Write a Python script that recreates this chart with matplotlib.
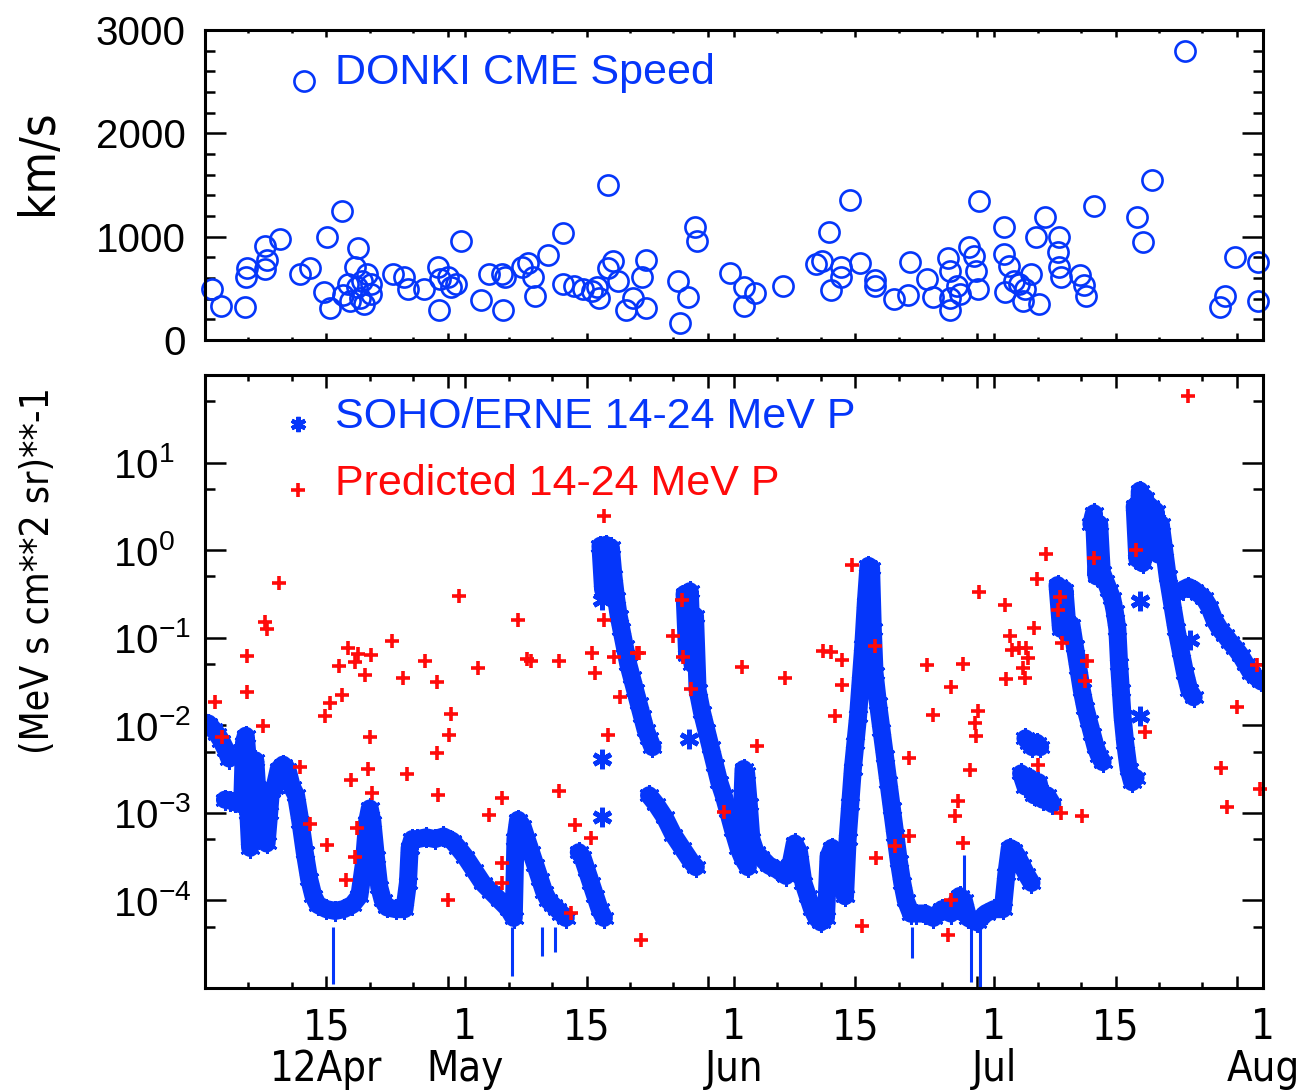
import numpy as np
import matplotlib.pyplot as plt
from matplotlib import font_manager as fm
from matplotlib.ticker import FixedLocator, NullFormatter

plt.rcParams["font.family"] = ["Liberation Sans", "DejaVu Sans"]
plt.rcParams["mathtext.fontset"] = "custom"
plt.rcParams["mathtext.rm"] = "Liberation Sans"
BLUE = "#0536fa"
RED = "#ff0a0a"

# look for a narrow sans font for the axis labels
narrow_file = None
for f in fm.fontManager.ttflist:
    if f.style != "normal" or f.weight not in (400, "normal", "regular", "book"):
        continue
    if "Narrow" in f.name or "Condensed" in f.name or f.stretch in ("condensed", "semi-condensed"):
        if narrow_file is None or "Liberation" in f.name:
            narrow_file = f.fname
if narrow_file:
    NARROW = fm.FontProperties(fname=narrow_file)
else:
    NARROW = fm.FontProperties(family="Liberation Sans")

# day numbers counted from 2012 Apr 1

# DONKI CME speed (km/s)
cme_day = [0.8, 1.9, 4.6, 4.7, 4.9, 6.9, 7.1, 6.9, 8.6, 11.4, 11.0, 12.1, 14.1, 13.7, 14.4,
           15.8, 15.9, 16.5, 16.7, 17.6, 17.3, 17.5, 17.9, 18.3, 18.7, 19.1, 19.1, 18.1, 21.7,
           22.9, 23.4, 25.3, 26.9, 27.0, 27.1, 28.0, 28.4, 29.0, 29.5, 31.8, 32.8, 34.3, 34.4,
           34.6, 36.6, 37.2, 37.8, 38.0, 39.5, 41.3, 41.3, 42.6, 43.6, 44.6, 45.2, 45.4, 46.5,
           46.5, 47.0, 47.6, 48.5, 49.3, 50.4, 50.8, 50.8, 54.5, 54.8, 55.7, 56.5, 56.7, 60.5,
           62.1, 62.1, 63.4, 66.7, 70.4, 71.2, 72.0, 74.4, 72.2, 73.3, 73.3, 75.5, 77.2, 77.2,
           79.4, 81.1, 81.3, 83.3, 83.9, 85.7, 85.9, 85.9, 85.9, 86.7, 87.1, 88.1, 88.7, 88.9,
           89.1, 89.2, 92.1, 92.1, 92.7, 92.3, 93.3, 93.9, 94.5, 94.3, 95.3, 95.8, 96.2, 96.8,
           98.5, 98.4, 98.5, 98.7, 100.9, 101.3, 101.6, 102.5, 107.5, 108.2, 109.2, 113.0,
           117.0, 117.6, 118.8, 121.4, 121.4]
cme_speed = [492, 330, 320, 605, 696, 906, 773, 686, 977, 2505, 637, 696, 1000, 469, 307,
             1246, 437, 540, 379, 890, 702, 508, 411, 346, 637, 540, 443, 573, 637,
             605, 492, 492, 702, 288, 589, 605, 508, 540, 955, 385, 637, 637, 288,
             605, 709, 741, 612, 427, 822, 1036, 540, 524, 492, 476, 508, 411, 1495,
             696, 767, 573, 288, 411, 612, 773, 314, 573, 168, 417, 1097, 955, 644,
             508, 330, 450, 524, 735, 767, 1042, 1356, 482, 709, 605, 741, 579, 524,
             395, 437, 751, 589, 417, 793, 670, 411, 288, 524, 443, 896, 815, 670,
             492, 1343, 1097, 832, 718, 460, 573, 540, 492, 379, 637, 1000, 346, 1194,
             1000, 848, 702, 605, 631, 534, 427, 1301, 1194, 945, 1550, 2799,
             320, 427, 799, 751, 379]

# predicted 14-24 MeV proton flux, log10
pred_day = [1.1, 2.0, 4.8, 4.8, 6.9, 7.1, 6.7, 8.5, 11.0, 12.1, 14.1, 13.8, 14.4, 15.4, 15.8,
            16.5, 17.3, 17.6, 19.1, 18.4, 16.8, 17.5, 17.3, 16.3, 19.0, 18.8, 19.2, 21.6, 22.8,
            23.3, 25.4, 26.8, 26.8, 26.9, 28.1, 28.4, 29.3, 28.0, 31.5, 32.7, 34.2, 34.3, 34.2,
            36.1, 37.1, 37.6, 40.8, 40.8,
            46.0, 46.0, 44.6, 45.0, 47.2, 50.1, 49.8, 47.9, 46.5, 42.7, 44.5, 42.2, 50.3, 54.0,
            55.1, 56.0, 59.9, 61.9, 63.6, 66.9, 71.3, 72.2, 73.5, 73.5, 72.7, 74.6, 77.3, 81.2,
            81.2, 77.4, 79.6, 75.7, 55.0,
            113.3, 97.0, 95.9, 89.3, 92.2, 95.6, 92.8, 93.1, 93.9, 94.7, 94.9, 94.3, 94.6, 92.4,
            83.2, 87.4, 86.0, 83.9, 89.1, 88.8, 88.9, 88.2, 86.8, 86.5, 87.4, 86.0, 85.7, 98.6,
            98.4, 98.8, 101.7, 101.5, 98.7, 101.1, 96.1, 102.5, 107.3, 108.4, 119.0, 117.2,
            117.8, 121.6, 121.3]
pred_log = [-1.73, -2.13, -1.21, -1.62, -0.82, -0.90, -2.01, -0.38, -2.48, -3.13, -3.37, -1.89,
            -1.75, -1.32, -1.65, -1.12, -1.28, -1.19, -1.20, -1.43, -2.62, -3.17, -3.51, -3.77,
            -2.13, -2.50, -2.77, -1.04, -1.46, -2.56, -1.27, -1.51, -2.32, -2.80, -2.11, -1.87,
            -0.52, -3.99, -1.35, -3.02, -2.83, -3.57, -3.80, -0.80, -1.24, -1.27, -1.27, -2.75,
            0.39, -0.80, -1.18, -1.40, -1.22, -1.18, -1.17, -1.68, -2.11, -3.14, -3.29, -4.14,
            -4.45, -0.98, -1.22, -1.59, -2.99, -1.34, -2.24, -1.46, -1.15, -1.16, -1.25, -1.54,
            -1.90, -0.17, -1.09, -2.37, -3.27, -3.52, -3.38, -4.29, -0.57,
            1.76, -0.04, -0.33, -0.48, -0.63, -0.89, -0.98, -1.14, -1.12, -1.12, -1.23, -1.35,
            -1.46, -1.47, -1.31, -1.30, -1.56, -1.88, -1.84, -1.97, -2.12, -2.51, -2.86, -3.04,
            -3.34, -3.99, -4.40, -0.53, -0.68, -1.06, -1.27, -1.50, -3.00, -3.04, -2.45, -0.09,
            0.00, -2.08, -1.79, -2.49, -2.93, -2.73, -1.31]

# SOHO/ERNE 14-24 MeV proton flux, log10, one list per data stretch
erne_a_day = [0.0, 0.4, 0.9, 1.4, 1.9, 2.4, 2.8]
erne_a_log = [-1.97, -1.98, -2.04, -2.1, -2.18, -2.28, -2.38]
erne_b_day = [2.3, 2.9, 3.5, 4.0, 4.3, 4.5, 4.7, 4.9, 5.0, 5.2, 5.4, 5.6, 5.8, 6.0, 6.3, 6.6,
              6.8, 7.1, 7.4, 7.6, 8.0, 8.5, 9.0, 9.5, 10.0, 10.5, 11.0, 11.5, 12.0, 12.5, 13.0,
              14.0, 15.0, 16.0, 17.0, 17.8, 18.3, 18.7, 19.0, 19.3, 19.7, 20.1, 20.5, 21.0,
              22.0, 23.0, 23.4, 23.6, 23.9, 24.5, 25.5, 26.5, 27.5, 28.5, 29.2, 30.0, 31.0,
              32.0, 33.0, 34.0, 35.0, 35.6, 35.8, 36.1, 36.6, 37.1, 37.6, 38.1, 38.6, 39.1,
              39.6, 40.1, 40.6, 41.1, 41.6]
erne_b_log = [-2.85, -2.86, -2.88, -2.9, -2.88, -2.2, -2.12, -2.35, -3.0, -3.4, -3.3, -2.6,
              -2.4, -2.7, -2.8, -2.8, -3.25, -3.35, -3.0, -2.75, -2.72, -2.5, -2.45, -2.5,
              -2.7, -2.8, -3.1, -3.45, -3.75, -3.95, -4.05, -4.1, -4.12, -4.1, -4.05, -3.95,
              -3.6, -3.1, -2.95, -3.1, -3.5, -3.85, -4.0, -4.08, -4.1, -4.1, -3.8, -3.4, -3.3,
              -3.3, -3.28, -3.3, -3.27, -3.32, -3.4, -3.5, -3.65, -3.8, -3.9, -4.0, -4.1, -4.2,
              -3.3, -3.08, -3.15, -3.3, -3.45, -3.6, -3.75, -3.9, -4.0, -4.05, -4.1, -4.15, -4.2]
erne_d_day = [43.1, 43.5, 44.0, 44.5, 45.0, 45.5, 46.0]
erne_d_log = [-3.45, -3.5, -3.65, -3.8, -3.95, -4.1, -4.2]
erne_e_day = [45.6, 45.9, 46.2, 46.5, 46.8, 47.1, 47.4, 47.7, 48.0, 48.4, 48.8, 49.2, 49.6,
              50.0, 50.4, 50.8, 51.2, 51.6]
erne_e_log = [0.05, -0.45, 0.06, -0.5, 0.03, -0.3, -0.55, -0.75, -0.9, -1.1, -1.3, -1.45,
              -1.6, -1.75, -1.9, -2.05, -2.15, -2.25]
erne_f_day = [51.2, 52.0, 53.0, 54.0, 55.0, 56.0, 56.6]
erne_f_log = [-2.8, -2.9, -3.05, -3.25, -3.4, -3.55, -3.62]
erne_g_day = [55.3, 55.6, 55.9, 56.2, 56.5, 56.8, 57.3, 57.8, 58.3, 58.8, 59.3, 59.8, 60.3,
              60.9, 61.5, 62.0, 62.6]
erne_g_log = [-0.5, -1.2, -0.47, -1.3, -0.75, -1.6, -1.85, -2.05, -2.25, -2.45, -2.65, -2.8,
              -2.98, -3.2, -3.4, -3.52, -3.62]
erne_h_day = [61.8, 62.1, 62.4, 62.7, 63.0, 63.5, 64.0, 65.0, 66.0, 67.0, 67.5, 68.0, 68.5,
              69.0, 69.5, 70.0, 70.5, 71.0, 71.6, 71.9, 72.3, 72.8, 73.3, 73.8]
erne_h_log = [-3.3, -2.5, -2.55, -2.9, -3.3, -3.45, -3.5, -3.6, -3.65, -3.72, -3.6, -3.35,
              -3.45, -3.8, -3.95, -4.1, -4.2, -4.25, -4.2, -3.5, -3.4, -3.45, -3.7, -3.95]
erne_i_day = [73.8, 74.1, 74.4, 74.7, 75.0, 75.3, 75.6, 75.9, 76.2, 76.5, 76.8, 77.0, 77.2,
              77.6, 78.0, 78.4, 78.8, 79.2, 79.6, 80.0, 80.4, 80.8, 81.4]
erne_i_log = [-3.95, -3.3, -2.9, -2.5, -2.2, -1.9, -1.5, -1.1, -0.6, -0.18, -0.2, -0.9,
              -1.4, -1.75, -2.05, -2.35, -2.65, -2.95, -3.25, -3.55, -3.8, -4.0, -4.15]
erne_j_day = [81.4, 82.0, 83.0, 84.0, 85.0, 86.0, 86.5, 87.0, 87.5, 88.0, 89.0, 90.0, 91.0,
              92.0, 92.4, 92.8, 93.2, 93.7, 94.2, 94.7, 95.3]
erne_j_log = [-4.15, -4.15, -4.15, -4.2, -4.1, -4.15, -4.05, -3.95, -4.0, -4.2, -4.25, -4.15,
              -4.1, -4.1, -3.7, -3.4, -3.42, -3.5, -3.6, -3.7, -3.8]
erne_k_day = [94.6, 95.0, 95.4, 95.9, 96.3]
erne_k_log = [-2.15, -2.2, -2.25, -2.2, -2.25]
erne_k2_day = [94.1, 94.6, 95.1, 95.6, 96.1, 96.6, 97.1, 97.7]
erne_k2_log = [-2.55, -2.7, -2.6, -2.8, -2.65, -2.85, -2.8, -2.9]
erne_l_day = [98.3, 98.7, 99.1, 99.5, 99.9, 100.3, 100.7, 101.1, 101.5, 101.9, 102.3, 102.7,
              103.1, 103.5]
erne_l_log = [-0.4, -0.9, -0.45, -0.95, -0.85, -1.1, -1.35, -1.6, -1.8, -1.95, -2.1, -2.25,
              -2.35, -2.42]
erne_m_day = [102.2, 102.5, 102.8, 103.1, 103.4, 103.8, 104.2, 104.6, 104.9, 105.2, 105.4,
              105.6, 105.8, 106.1, 106.5, 106.9, 107.3]
erne_m_log = [0.3, 0.42, -0.3, 0.3, -0.25, -0.35, -0.45, -0.55, -0.7, -0.9, -1.3, -1.6, -1.9,
              -2.2, -2.5, -2.65, -2.6]
erne_n_day = [107.2, 107.5, 107.8, 108.1, 108.4, 108.7, 109.0, 109.3, 109.6, 109.9, 110.2,
              110.6, 111.0, 111.5, 112.0, 112.5, 113.0, 113.5, 114.0]
erne_n_log = [0.5, -0.1, 0.68, -0.15, 0.6, 0.0, 0.5, 0.05, 0.45, -0.05, 0.3, 0.0, -0.3, -0.6,
              -0.9, -1.15, -1.4, -1.6, -1.68]
erne_o_day = [112.8, 113.4, 114.0, 114.6, 115.2, 115.8, 116.4, 117.0, 117.6, 118.2, 118.8,
              119.4, 120.0, 120.6, 121.2, 121.8, 122.0]
erne_o_log = [-0.45, -0.42, -0.45, -0.5, -0.55, -0.65, -0.8, -0.9, -0.97, -1.05, -1.12, -1.2,
              -1.3, -1.4, -1.45, -1.5, -1.5]
erne_single_day = [45.8, 45.8, 45.8, 55.8, 107.8, 107.8, 113.6]
erne_single_log = [-0.57, -2.39, -3.05, -2.16, -0.58, -1.9, -1.03]

err_day = [14.8, 35.4, 38.9, 40.4, 81.5, 87.5, 88.3, 89.4]
err_lo = [-4.95, -4.86, -4.63, -4.59, -4.66, -4.05, -4.93, -5.0]
err_hi = [-4.3, -4.3, -4.3, -4.3, -4.3, -3.48, -4.3, -4.3]

# x axis ticks
tick_day = [0, 14, 28, 30, 44, 58, 61, 75, 89, 91, 105, 119, 122]
tick_lab = ["", "15\n12Apr", "", "1\nMay", "15", "", "1\nJun", "15", "", "1\nJul", "15", "", "1\nAug"]
minor_day = [5, 10, 19, 24, 35, 40, 49, 54, 66, 71, 80, 85, 96, 101, 110, 115]

erne = [(erne_a_day, erne_a_log), (erne_b_day, erne_b_log), (erne_d_day, erne_d_log),
        (erne_e_day, erne_e_log), (erne_f_day, erne_f_log), (erne_g_day, erne_g_log),
        (erne_h_day, erne_h_log), (erne_i_day, erne_i_log), (erne_j_day, erne_j_log),
        (erne_k_day, erne_k_log), (erne_k2_day, erne_k2_log), (erne_l_day, erne_l_log),
        (erne_m_day, erne_m_log), (erne_n_day, erne_n_log), (erne_o_day, erne_o_log)]

fig = plt.figure(figsize=(13.09, 10.90), dpi=100)
ax1 = fig.add_axes([0.1566, 0.6881, 0.8083, 0.2844])
ax2 = fig.add_axes([0.1566, 0.0936, 0.8083, 0.5624])

# top panel
ax1.plot(cme_day, cme_speed, linestyle="none", marker="o", ms=14.5, mfc="none",
         mec=BLUE, mew=1.9, clip_on=False)
ax1.text(0.123, 0.826, "DONKI CME Speed", color=BLUE, fontsize=31, transform=ax1.transAxes)
ax1.set_xlim(0, 122)
ax1.set_ylim(0, 3000)
ax1.set_yticks([0, 1000, 2000, 3000])
ax1.set_yticklabels(["0", "1000", "2000", "3000"], fontsize=29)
ax1.yaxis.set_minor_locator(FixedLocator(np.arange(200, 3000, 200)))
ax1.tick_params(axis="y", which="major", length=15, pad=14)
ax1.tick_params(axis="y", which="minor", length=7.5)
ax1.tick_params(axis="x", which="major", length=5)
ax1.tick_params(axis="x", which="minor", length=2.5)

# bottom panel
for d, l in erne:
    ax2.plot(d, 10 ** np.array(l), color=BLUE, lw=13, solid_joinstyle="round",
             solid_capstyle="round", marker=(6, 2, 0), ms=15, mew=2, mec=BLUE)
ax2.plot(erne_single_day, 10 ** np.array(erne_single_log), linestyle="none",
         marker=(6, 2, 0), ms=14, mew=3.5, mec=BLUE)
ax2.vlines(err_day, 10 ** np.array(err_lo), 10 ** np.array(err_hi), color=BLUE, lw=2.2)
ax2.plot(pred_day, 10 ** np.array(pred_log), linestyle="none", marker="+", ms=10,
         mew=2.6, color=RED, clip_on=False)

ax2.plot([0.088], [0.92], transform=ax2.transAxes, marker=(6, 2, 0), ms=11, mew=3,
         mec=BLUE, linestyle="none")
ax2.text(0.123, 0.9135, "SOHO/ERNE 14-24 MeV P", color=BLUE, fontsize=31,
         transform=ax2.transAxes)
ax2.plot([0.088], [0.812], transform=ax2.transAxes, marker="+", ms=10, mew=2.6,
         color=RED, linestyle="none")
ax2.text(0.123, 0.804, "Predicted 14-24 MeV P", color=RED, fontsize=31,
         transform=ax2.transAxes)

ax2.set_yscale("log")
ax2.set_xlim(0, 122)
ax2.set_ylim(1e-5, 1e2)
ax2.yaxis.set_major_locator(FixedLocator([1e-4, 1e-3, 1e-2, 1e-1, 1e0, 1e1]))
ax2.yaxis.set_minor_locator(FixedLocator([5e-5, 5e-4, 5e-3, 5e-2, 5e-1, 5e0, 5e1]))
ax2.yaxis.set_minor_formatter(NullFormatter())
ax2.set_yticklabels([r"$\mathregular{10^{-4}}$", r"$\mathregular{10^{-3}}$",
                     r"$\mathregular{10^{-2}}$", r"$\mathregular{10^{-1}}$",
                     r"$\mathregular{10^{0}}$", r"$\mathregular{10^{1}}$"], fontsize=29)
ax2.tick_params(axis="y", which="major", length=15, pad=66)
ax2.tick_params(axis="y", which="minor", length=7.5)
for lab in ax2.get_yticklabels():
    lab.set_horizontalalignment("left")
ax2.tick_params(axis="x", which="major", length=9, pad=13)
ax2.tick_params(axis="x", which="minor", length=4.5)

for ax in [ax1, ax2]:
    ax.set_xticks(tick_day)
    ax.xaxis.set_minor_locator(FixedLocator(minor_day))
    ax.tick_params(which="both", direction="in", top=True, right=True, width=1.8)
    for s in ax.spines.values():
        s.set_linewidth(2.2)
ax1.set_xticklabels([])
ax2.set_xticklabels(tick_lab)
for lab in ax2.get_xticklabels():
    lab.set_fontproperties(NARROW)
    lab.set_fontsize(30)
    lab.set_linespacing(1.0)

fig.text(0.029, 0.851, "km/s", rotation=90, ha="center", va="center",
         fontproperties=NARROW, fontsize=35)
fig.text(0.029, 0.477, "(MeV s cm**2 sr)**-1", rotation=90, ha="center", va="center",
         fontproperties=NARROW, fontsize=28)

fig.savefig("out.png", dpi=100)
